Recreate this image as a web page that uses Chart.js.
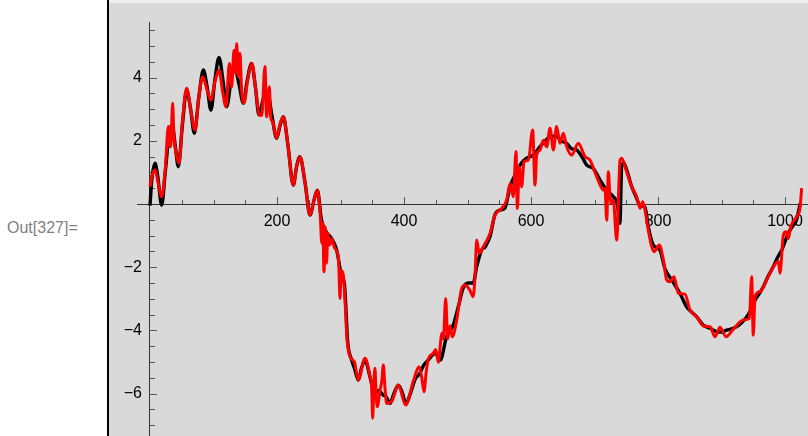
<!DOCTYPE html>
<html lang="en">
<head>
  <meta charset="UTF-8">
  <title>Out[327]</title>
  <script src="https://cdn.jsdelivr.net/npm/chart.js"></script>
  <style>
    html, body { margin: 0; padding: 0; background: #fff; }
    .page { position: relative; width: 808px; height: 436px; overflow: hidden; }
    .bracket { position: absolute; left: 107px; top: 0; width: 2px; height: 436px; background: #000; }
    .cell { position: absolute; left: 109px; top: 0; width: 699px; height: 436px; background: #d9d9d9; }
    .cell-top { position: absolute; left: 109px; top: 0; width: 699px; height: 3px; background: #efefef; }
    .out-label {
      position: absolute; left: 7px; top: 219px;
      font: 16px "Liberation Sans", Arial, sans-serif; color: #808080;
    }
    canvas { position: absolute; left: 0; top: 0; }
  </style>
</head>
<body>
<div class="page">
  <div class="cell"></div>
  <div class="cell-top"></div>
  <div class="bracket"></div>
  <div class="out-label">Out[327]=</div>
  <canvas id="grafico" width="808" height="436"></canvas>
</div>

<script>
  // black (smooth) curve
  const xBlack = [0, 3, 7.9, 12, 18.4, 24, 30, 35, 40, 44.6, 51, 57.7, 64, 69.8, 77, 84, 90, 96, 102, 108.7,
    115, 120.7, 127, 133, 140, 147, 153, 160, 166, 171.6, 178, 185, 192, 199.5, 205, 210, 217, 225.7, 231, 236,
    244, 252, 258, 263.5, 270, 278, 286, 294, 302, 306, 309, 311, 317.6, 322, 328, 333, 338.6, 346.5, 354, 360,
    367, 372, 378, 384, 391, 397, 403, 410, 417, 425, 431, 438, 449, 457, 467, 477.6, 485.5, 493, 501, 509,
    514.5, 522, 528, 535.4, 543, 550, 559, 567, 577.5, 585, 593, 603.6, 614, 624.7, 632, 640.5, 648, 656, 664, 672,
    680, 687.7, 698, 708.7, 719, 729.6, 736, 740, 742.8, 746, 750.6, 758.6, 765, 771.7, 779.5, 784.7, 792.6, 803, 811, 821.6,
    834.6, 845, 852, 861, 871, 882, 892.4, 900, 908, 916, 924, 932, 939.7, 946, 952.8, 959, 965.8, 973, 981.6, 988,
    994.8, 1005, 1012, 1018, 1024];
  const yBlack = [-0.05, 0.8, 1.29, 0.9, -0.03, 1.0, 2.2, 2.5, 1.8, 1.18, 2.5, 3.6, 3.0, 2.24, 3.4, 4.24, 3.7, 2.97, 3.9, 4.64,
    3.9, 3.08, 3.8, 4.35, 3.8, 3.19, 3.9, 4.45, 3.7, 2.82, 3.3, 3.55, 2.8, 2.08, 2.5, 2.76, 1.9, 0.6, 1.2, 1.5,
    0.7, -0.35, 0.1, 0.44, -0.5, -0.9, -1.09, -1.46, -2.3, -2.5, -3.5, -4.3, -4.94, -5.2, -5.57, -5.2, -4.94, -5.47, -5.99, -5.9,
    -6.04, -6.1, -6.31, -6.0, -5.73, -5.95, -6.31, -6.0, -5.57, -5.35, -5.1, -4.94, -4.72, -4.94, -4.2, -3.83, -3.25, -2.67, -2.5, -2.5,
    -1.98, -1.46, -1.35, -1.03, -0.35, -0.2, -0.12, 0.55, 1.02, 1.3, 1.45, 1.55, 1.81, 2.05, 2.15, 2.13, 2.0, 1.92, 1.75, 1.71,
    1.5, 1.23, 1.13, 0.76, 0.44, 0.23, 0.0, -0.61, 1.2, 1.3, 1.08, 0.55, 0.25, -0.05, -0.1, -0.72, -1.3, -1.46, -2.05, -2.4,
    -2.83, -3.25, -3.4, -3.57, -3.83, -3.93, -4.04, -4.05, -3.99, -3.95, -3.88, -3.75, -3.57, -3.35, -3.04, -2.85, -2.62, -2.3, -1.98, -1.7,
    -1.46, -0.93, -0.7, -0.51, 0.02];

  // red (noisy) curve
  const xRed = [0, 4, 7.9, 12, 18.4, 24, 28.9, 30.5, 32.5, 35.7, 37.5, 39.4, 45.7, 51, 57.7, 64, 70.9, 77, 82.9, 90,
    96, 102, 108.7, 114, 119.7, 125, 128.6, 132.3, 134.9, 136.5, 139.1, 141.7, 144, 148, 154, 160.6, 166, 172.2, 176, 181,
    183.7, 188, 190, 193, 199.5, 205, 210, 217, 225.7, 231, 236.2, 244, 252, 258, 263.5, 268, 270.5, 272, 274, 276,
    278, 280, 283, 286, 290, 294, 297, 299.2, 301, 304.5, 307, 310, 315, 322, 328, 338.6, 346.5, 349, 350.7, 352.5,
    354.3, 356, 358, 362.2, 365, 367.5, 370, 372.7, 380.6, 391, 402.6, 414.7, 423.6, 428, 431.5, 435, 438.3, 446.2, 450, 454,
    457, 459.3, 462, 465.6, 468.8, 472.4, 476, 483, 490.8, 496, 503, 509, 512, 514.4, 518.6, 524.9, 535.4, 543.3, 553.8, 561.7,
    567, 572.1, 576.4, 578.5, 581.6, 585.3, 589, 595.8, 602.6, 606.3, 608.9, 614.2, 619.4, 624.7, 629.9, 635.2, 640.4, 645.7, 650.9, 656.2,
    664, 674.5, 685, 692.9, 703.4, 713.9, 716.5, 719.2, 721.8, 724.4, 726.8, 729.6, 734.9, 740.2, 742.8, 750.6, 758.5, 766.4, 771.7, 775.9,
    779.5, 784.7, 790, 794, 802, 808.4, 813.6, 818.9, 825.2, 832, 842.5, 850.4, 861, 871.5, 882, 889.8, 897.6, 907.1, 918.6, 934.4,
    943.8, 947.5, 950, 952.8, 960.6, 971.1, 981.6, 989.5, 992.1, 997.4, 1001.6, 1005.2, 1008.9, 1018.4, 1023.6, 1026.2];
  const yRed = [0.55, 0.95, 1.08, 0.75, 0.23, 1.1, 2.45, 1.9, 1.81, 3.19, 2.2, 1.81, 1.29, 2.6, 3.66, 3.0, 2.34, 3.4, 4.03, 3.6,
    3.29, 3.85, 4.24, 3.6, 3.08, 4.45, 3.71, 4.87, 4.13, 5.08, 4.03, 4.77, 3.7, 3.19, 3.95, 4.45, 3.7, 2.82, 2.8, 4.35,
    2.76, 3.71, 2.76, 2.6, 2.08, 2.55, 2.76, 1.9, 0.6, 1.2, 1.5, 0.7, -0.35, 0.1, 0.44, -0.3, -1.24, -0.6, -2.14, -0.72,
    -1.87, -0.92, -1.3, -1.1, -1.35, -1.5, -1.8, -2.99, -2.1, -2.25, -3.0, -4.2, -4.83, -5.0, -5.57, -4.88, -5.47, -5.8, -6.78, -5.7,
    -5.2, -6.0, -6.41, -5.9, -5.6, -5.09, -5.8, -6.31, -6.25, -5.73, -6.36, -5.6, -5.15, -5.5, -5.94, -5.3, -4.9, -4.72, -4.6, -5.01,
    -4.5, -4.09, -4.27, -2.99, -4.27, -3.85, -4.2, -3.67, -2.67, -2.56, -2.7, -2.93, -2.2, -1.14, -1.56, -1.35, -0.93, -0.35, -0.14, 0.13,
    0.65, 0.23, 1.66, -0.14, 1.18, 0.55, 1.34, 1.39, 2.34, 0.6, 1.55, 1.71, 2.02, 1.81, 2.4, 1.71, 2.45, 1.92, 2.24, 1.81,
    1.55, 1.92, 1.5, 1.39, 0.87, 0.44, 0.5, -0.51, 1.02, 0.23, 0.02, 0.13, -1.14, 1.39, 1.45, 1.02, 0.55, 0.23, -0.13, 0.07,
    -0.19, -0.82, -1.35, -1.51, -1.3, -1.77, -2.4, -2.46, -2.3, -2.83, -2.85, -3.35, -3.57, -3.86, -3.88, -4.2, -3.9, -4.2, -3.96, -3.67,
    -3.62, -2.3, -4.15, -2.93, -2.77, -2.4, -1.98, -1.82, -2.19, -0.98, -0.88, -1.09, -0.72, -0.4, -0.13, 0.5];

  // ticks
  const xTickLabels = [200, 400, 600, 800, 1000];
  const yTickLabels = [-6, -4, -2, 2, 4];
  const xMinorStep = 50;
  const yMinorStep = 0.5;

  const toPoints = (xs, ys) => xs.map((x, i) => ({ x: x, y: ys[i] }));
  // y labels sit flush on an axis placed at x=0, the en space keeps them off the line
  const fmt = v => (v < 0 ? '\u2212' + Math.abs(v) : String(v)) + '\u2002';
  // axes sit inside the plot, so they must not eat layout space
  const noPadding = scale => {
    scale.paddingTop = 0;
    scale.paddingBottom = 0;
    scale.paddingLeft = 0;
    scale.paddingRight = 0;
  };

  // Mathematica-style inward tick marks
  const tickMarks = {
    id: 'tickMarks',
    beforeDatasetsDraw(chart) {
      const { ctx, scales: { x, y } } = chart;
      const x0 = x.getPixelForValue(0);
      const y0 = y.getPixelForValue(0);
      ctx.save();
      ctx.strokeStyle = '#555';
      ctx.lineWidth = 1;
      ctx.beginPath();
      x.ticks.forEach(t => {
        if (t.value <= 0) return;
        const px = Math.round(x.getPixelForValue(t.value)) + 0.5;
        const len = xTickLabels.includes(t.value) ? 7 : 4;
        ctx.moveTo(px, y0);
        ctx.lineTo(px, y0 - len);
      });
      y.ticks.forEach(t => {
        if (t.value === 0) return;
        const py = Math.round(y.getPixelForValue(t.value)) + 0.5;
        const major = yTickLabels.includes(t.value);
        ctx.moveTo(major ? x0 - 1 : x0, py);
        ctx.lineTo(x0 + (major ? 7 : 5), py);
      });
      ctx.stroke();
      ctx.restore();
    }
  };

  const ctx = document.getElementById('grafico').getContext('2d');
  new Chart(ctx, {
    type: 'line',
    data: {
      datasets: [{
        data: toPoints(xRed, yRed),
        borderColor: '#ff0000',
        borderWidth: 3,
        pointRadius: 0,
        cubicInterpolationMode: 'monotone'
      }, {
        data: toPoints(xBlack, yBlack),
        borderColor: '#000',
        borderWidth: 3.4,
        pointRadius: 0,
        cubicInterpolationMode: 'monotone'
      }]
    },
    options: {
      responsive: false,
      animation: false,
      events: [],
      layout: { padding: { left: 137, top: 22, right: 0, bottom: 0 } },
      plugins: { legend: { display: false }, tooltip: { enabled: false } },
      scales: {
        x: {
          type: 'linear',
          position: { y: 0 },
          min: -20.47,
          max: 1036.2,
          afterFit: noPadding,
          grid: { display: false, drawTicks: false },
          border: { display: true, color: '#333', width: 1 },
          ticks: {
            stepSize: xMinorStep,
            includeBounds: false,
            autoSkip: false,
            maxRotation: 0,
            padding: 8,
            color: '#000',
            font: { family: '"Liberation Sans", Arial, sans-serif', size: 16 },
            callback: v => (xTickLabels.includes(v) ? String(v) : '')
          }
        },
        y: {
          type: 'linear',
          position: { x: 0 },
          min: -7.34,
          max: 5.76,
          afterFit: noPadding,
          grid: { display: false, drawTicks: false },
          border: { display: true, color: '#333', width: 1 },
          ticks: {
            stepSize: yMinorStep,
            includeBounds: false,
            autoSkip: false,
            padding: 11,
            color: '#000',
            font: { family: '"Liberation Sans", Arial, sans-serif', size: 16 },
            callback: v => (yTickLabels.includes(v) ? fmt(v) : '')
          }
        }
      }
    },
    plugins: [tickMarks]
  });
</script>
</body>
</html>
